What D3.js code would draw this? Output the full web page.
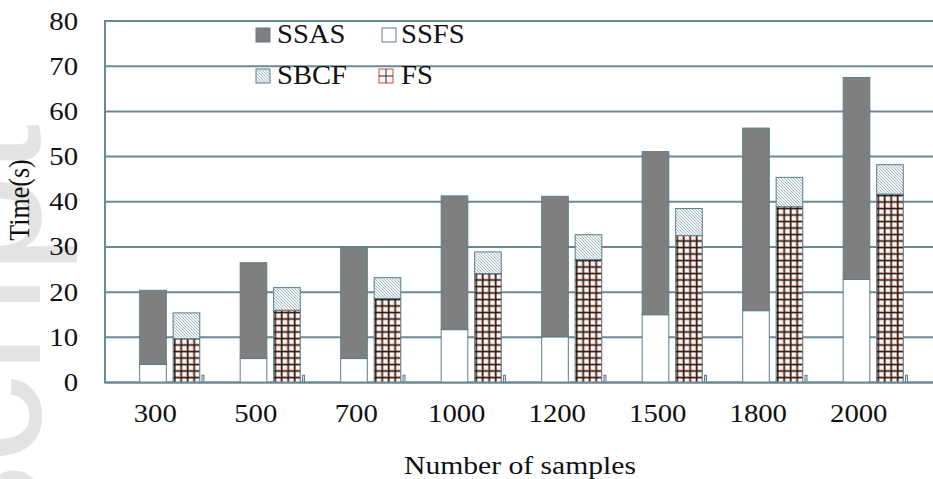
<!DOCTYPE html>
<html>
<head>
<meta charset="utf-8">
<script src="https://cdn.jsdelivr.net/npm/d3@7"></script>
<style>
  html, body { margin: 0; padding: 0; background: #fff; }
  svg { display: block; }
</style>
</head>
<body>
<svg id="chart" width="933" height="479"></svg>
<script>
// Sample sizes on the x axis
const categories = ["300", "500", "700", "1000", "1200", "1500", "1800", "2000"];
// Left bar of each group: SSFS at the bottom, SSAS stacked above it
const ssfs = [4.0, 5.3, 5.3, 11.7, 10.1, 15.0, 15.9, 22.8];
const ssas = [16.4, 21.2, 24.7, 29.6, 31.1, 36.1, 40.4, 44.7];
// Right bar of each group: FS at the bottom, SBCF stacked above it
const fs = [9.7, 16.0, 18.6, 24.1, 27.2, 32.5, 38.9, 41.7];
const sbcf = [5.7, 5.0, 4.6, 4.8, 5.5, 6.0, 6.5, 6.5];
// Thin third column at the end of each group
const other = [1.6, 1.6, 1.6, 1.6, 1.6, 1.6, 1.6, 1.6];
const yTicks = [0, 10, 20, 30, 40, 50, 60, 70, 80];

const SERIF = "Liberation Serif, Tinos, DejaVu Serif, serif";

const svg = d3.select("#chart");
const W = 933;
const plotLeft = 105, plotRight = 909, plotTop = 21, plotBottom = 382.5;

const x = d3.scaleBand().domain(categories).range([plotLeft, plotRight]).padding(0);
const y = d3.scaleLinear().domain([0, 80]).range([plotBottom, plotTop]);
const bw = x.bandwidth();

const gridColor = "#6c8993";
const barStroke = "#5b7e88";

// Serif label, slightly widened
function label(sel, px, py, size, sx) {
  return sel.append("text")
    .attr("transform", `translate(${px},${py}) scale(${sx},1)`)
    .attr("font-family", SERIF)
    .attr("font-size", size)
    .attr("fill", "#111");
}

// Faint watermark on the left margin
svg.append("text")
  .attr("transform", "translate(40,124) rotate(-90)")
  .attr("text-anchor", "end")
  .attr("font-family", "Liberation Sans, Arimo, Arial, sans-serif")
  .attr("font-size", 180)
  .attr("fill", "#e3e3e3")
  .text("Accepted Manuscript");

const defs = svg.append("defs");

// Diagonal hatch for SBCF
const hatch = defs.append("pattern")
  .attr("id", "hatch")
  .attr("patternUnits", "userSpaceOnUse")
  .attr("width", 3).attr("height", 3);
hatch.append("rect").attr("width", 3).attr("height", 3).attr("fill", "#f1f4f5");
hatch.append("path")
  .attr("d", "M-1,-1 L4,4 M-1,2 L1,4 M2,-1 L4,1")
  .attr("stroke", "#a3b7bf").attr("stroke-width", 0.9);

// Grid fill for FS, one tile origin per bar so cells line up with the bar edge
const cell = 6.5;
const off1 = 0.345, off2 = 0.678, barFrac = 0.265;
const fsPat = defs.selectAll("pattern.fs")
  .data(categories)
  .join("pattern")
  .attr("class", "fs")
  .attr("id", (d, i) => "fs" + i)
  .attr("patternUnits", "userSpaceOnUse")
  .attr("width", cell).attr("height", cell)
  .attr("x", d => x(d) + off2 * bw)
  .attr("y", y(0));
fsPat.append("rect").attr("width", cell).attr("height", cell).attr("fill", "#fdf6f3");
fsPat.append("path").attr("d", `M0.5,0 V${cell} M0,0.5 H${cell}`)
  .attr("stroke", "#eda089").attr("stroke-width", 1);
fsPat.append("path").attr("d", `M1.7,0 V${cell} M0,1.7 H${cell}`)
  .attr("stroke", "#1c1c1c").attr("stroke-width", 1.4);

// Horizontal gridlines
svg.append("g").selectAll("line")
  .data(yTicks)
  .join("line")
  .attr("x1", plotLeft).attr("x2", W)
  .attr("y1", d => y(d)).attr("y2", d => y(d))
  .attr("stroke", gridColor).attr("stroke-width", 2);

// Vertical axis line
svg.append("line")
  .attr("x1", plotLeft).attr("x2", plotLeft)
  .attr("y1", y(80) - 1).attr("y2", y(0) + 1)
  .attr("stroke", gridColor).attr("stroke-width", 2);

// Stacked bars
const rows = categories.map((c, i) => ({ cat: c, i, ssfs: ssfs[i], ssas: ssas[i], fs: fs[i], sbcf: sbcf[i], other: other[i] }));

const stackA = d3.stack().keys(["ssfs", "ssas"])(rows);
const stackB = d3.stack().keys(["fs", "sbcf"])(rows);

const fillA = { ssfs: () => "#ffffff", ssas: () => "#7f7f7f" };
const fillB = { fs: d => `url(#fs${d.data.i})`, sbcf: () => "url(#hatch)" };

svg.append("g").selectAll("g")
  .data(stackA)
  .join("g")
  .each(function (layer) {
    d3.select(this).selectAll("rect")
      .data(layer)
      .join("rect")
      .attr("x", d => x(d.data.cat) + off1 * bw)
      .attr("width", barFrac * bw)
      .attr("y", d => y(d[1]))
      .attr("height", d => y(d[0]) - y(d[1]))
      .attr("fill", fillA[layer.key])
      .attr("stroke", barStroke).attr("stroke-width", 1);
  });

svg.append("g").selectAll("g")
  .data(stackB)
  .join("g")
  .each(function (layer) {
    d3.select(this).selectAll("rect")
      .data(layer)
      .join("rect")
      .attr("x", d => x(d.data.cat) + off2 * bw)
      .attr("width", barFrac * bw)
      .attr("y", d => y(d[1]))
      .attr("height", d => y(d[0]) - y(d[1]))
      .attr("fill", d => fillB[layer.key](d))
      .attr("stroke", barStroke).attr("stroke-width", 1);
  });

svg.append("g").selectAll("rect")
  .data(rows)
  .join("rect")
  .attr("x", d => x(d.cat) + 0.965 * bw)
  .attr("width", 2)
  .attr("y", d => y(d.other))
  .attr("height", d => y(0) - y(d.other))
  .attr("fill", "#d9e2e5")
  .attr("stroke", barStroke).attr("stroke-width", 1);

// Baseline drawn over the bar bottoms
svg.append("line")
  .attr("x1", plotLeft).attr("x2", W)
  .attr("y1", y(0)).attr("y2", y(0))
  .attr("stroke", gridColor).attr("stroke-width", 2);

// Y tick labels
const yLab = svg.append("g");
yTicks.forEach(t => {
  label(yLab, 78, y(t) + 8.5, 25, 1.15).attr("text-anchor", "end").text(t);
});

// X tick labels
const xLab = svg.append("g");
categories.forEach(c => {
  label(xLab, x(c) + bw / 2, 422, 25, 1.15).attr("text-anchor", "middle").text(c);
});

// Axis titles
label(svg, 520, 474, 26, 1.14).attr("text-anchor", "middle").text("Number of samples");

svg.append("text")
  .attr("transform", "translate(29,200) rotate(-90) scale(1,1.12)")
  .attr("text-anchor", "middle")
  .attr("font-family", SERIF)
  .attr("font-size", 26)
  .attr("fill", "#111")
  .text("Time(s)");

// Legend
const legendItems = [
  { name: "SSAS", fill: "#7f7f7f", sx: 256, sy: 28, tx: 277, ty: 43 },
  { name: "SSFS", fill: "#ffffff", sx: 382, sy: 28, tx: 401, ty: 43 },
  { name: "SBCF", fill: "url(#hatch)", sx: 256, sy: 69, tx: 277, ty: 84 },
  { name: "FS", fill: "#fdf6f3", sx: 379, sy: 69, tx: 401, ty: 84 }
];
const lg = svg.append("g");
legendItems.forEach(d => {
  lg.append("rect")
    .attr("x", d.sx).attr("y", d.sy)
    .attr("width", 14).attr("height", 14)
    .attr("fill", d.fill)
    .attr("stroke", d.name === "FS" ? "#c9553a" : barStroke)
    .attr("stroke-width", 1);
  if (d.name === "FS") {
    lg.append("path")
      .attr("d", `M${d.sx + 7},${d.sy} V${d.sy + 14} M${d.sx},${d.sy + 7} H${d.sx + 14}`)
      .attr("stroke", "#2a2a2a").attr("stroke-width", 1);
  }
  label(lg, d.tx, d.ty, 27, 1.06).text(d.name);
});
</script>
</body>
</html>
